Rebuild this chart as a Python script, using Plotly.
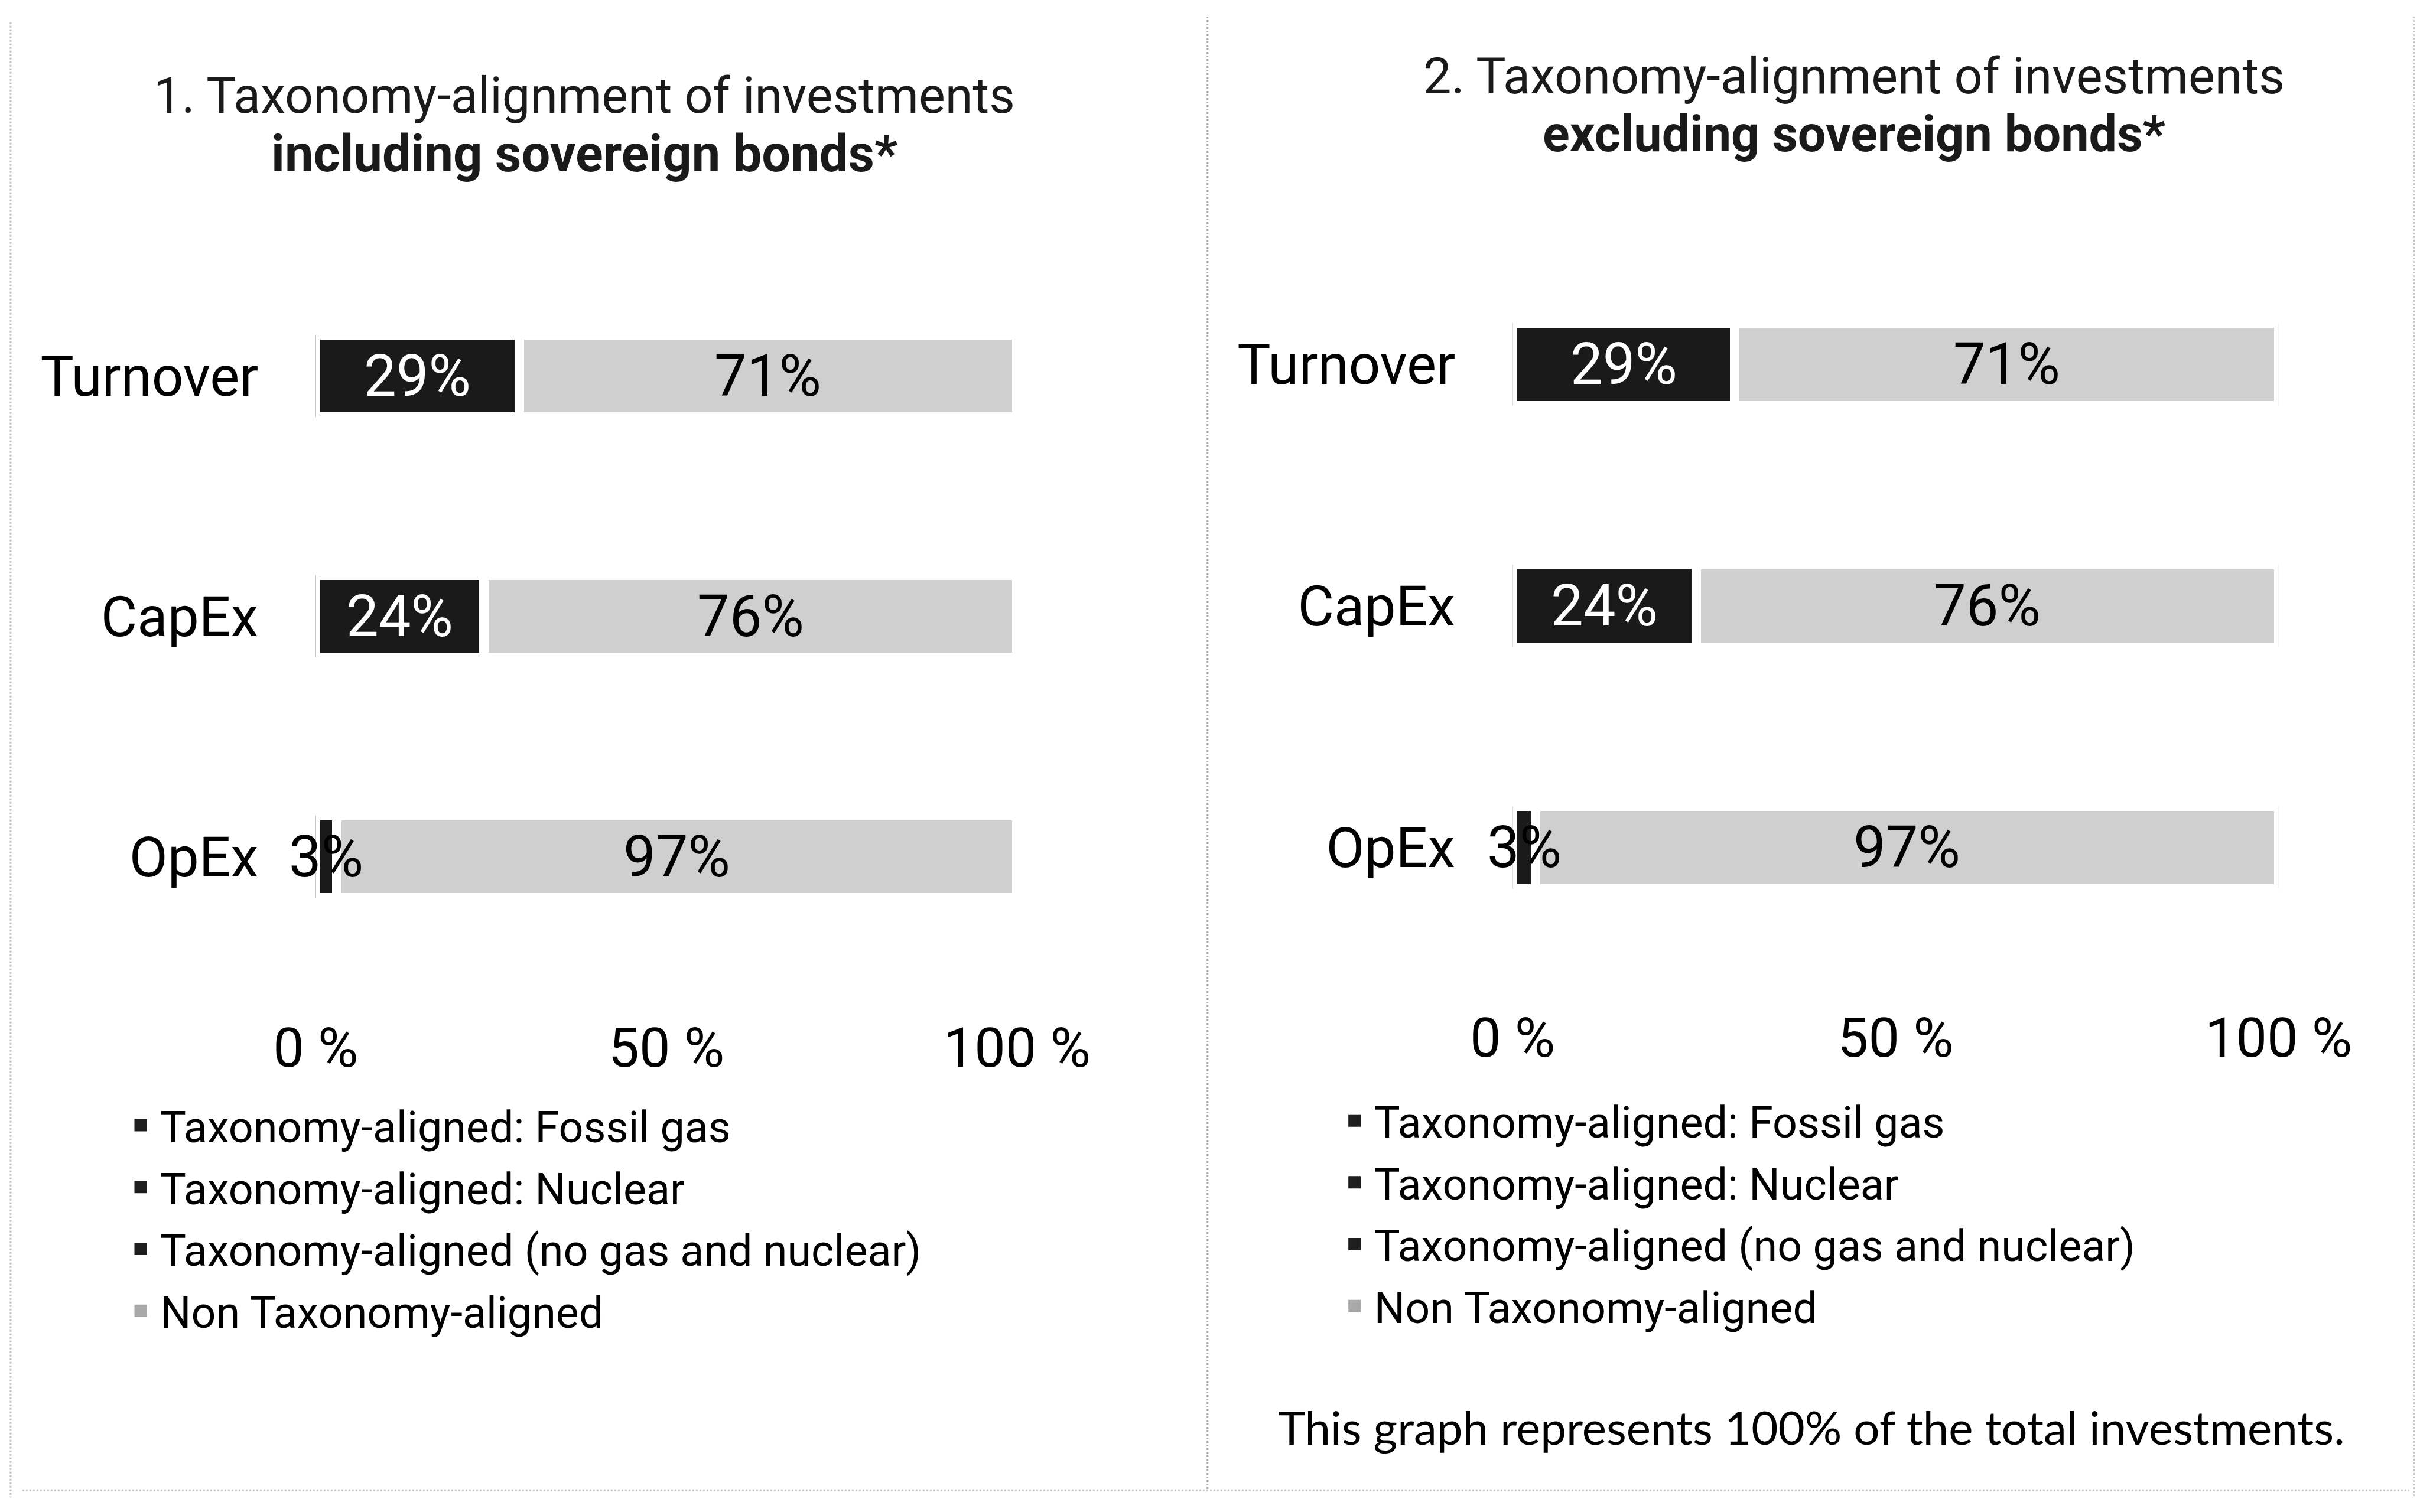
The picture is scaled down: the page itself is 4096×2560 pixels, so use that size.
import plotly.graph_objects as go

# ---------------- data ----------------
categories = ["Turnover", "CapEx", "OpEx"]
incl_fossil_gas = [0, 0, 0]
incl_nuclear = [0, 0, 0]
incl_aligned = [29, 24, 3]
incl_non_aligned = [71, 76, 97]
excl_fossil_gas = [0, 0, 0]
excl_nuclear = [0, 0, 0]
excl_aligned = [29, 24, 3]
excl_non_aligned = [71, 76, 97]
tick_vals = [0, 50, 100]
tick_text = ["0 %", "50 %", "100 %"]
legend_names = ["Taxonomy-aligned: Fossil gas", "Taxonomy-aligned: Nuclear",
                "Taxonomy-aligned (no gas and nuclear)", "Non Taxonomy-aligned"]
title1 = ["1. Taxonomy-alignment of investments", "including sovereign bonds*"]
title2 = ["2. Taxonomy-alignment of investments", "excluding sovereign bonds*"]
note = "This graph represents 100% of the total investments."

# ---------------- geometry helpers ----------------
S = 0.995
W, H = 4096, 2560
DY = -8
def fx(X):
    return X * S / W
def fy(Y):
    return 1 - (Y + DY) * S / H
def fy0(Y):
    return 1 - Y * S / H
def px(v):
    return v * S
def ipx(v):
    return int(round(v * S))

DARK = "#1a1a1a"
LIGHT = "#cfcfcf"
SEG_COLORS = [DARK, DARK, DARK, LIGHT]
LEG_COLORS = ["#1e1e1e", "#1e1e1e", "#1e1e1e", "#a9a9a9"]
FONT = "Roboto"

fig = go.Figure()

panels = [
    dict(series=[incl_fossil_gas, incl_nuclear, incl_aligned, incl_non_aligned],
         xa="x", ya="y", legend="legend"),
    dict(series=[excl_fossil_gas, excl_nuclear, excl_aligned, excl_non_aligned],
         xa="x2", ya="y2", legend="legend2"),
]

annotations = []
for p in panels:
    for name, vals, col in zip(legend_names, p["series"], SEG_COLORS):
        fig.add_trace(go.Bar(
            y=categories, x=vals, orientation="h", name=name,
            marker=dict(color=col, line=dict(color="white", width=px(16))),
            xaxis=p["xa"], yaxis=p["ya"], showlegend=False, hoverinfo="skip"))
    for i, (name, col) in enumerate(zip(legend_names, LEG_COLORS)):
        fig.add_trace(go.Scatter(
            x=[None], y=[None], mode="markers", name=name,
            marker=dict(symbol="square", size=16, color=col, line=dict(color=col, width=5)),
            xaxis=p["xa"], yaxis=p["ya"], legend=p["legend"],
            legendgroup=p["legend"] + str(i), showlegend=True))
    # value labels centred on segments (only non-zero segments)
    cum = [0.0] * len(categories)
    for k, vals in enumerate(p["series"]):
        for j, v in enumerate(vals):
            if v > 0:
                mid = cum[j] + v / 2
                annotations.append(dict(
                    x=mid, y=categories[j], xref=p["xa"], yref=p["ya"],
                    text=f"{v}%", showarrow=False,
                    font=dict(family=FONT, size=px(98),
                              color="white" if (SEG_COLORS[k] == DARK and v >= 10) else "black")))
            cum[j] += v

# titles
for (line1, line2), cx, y1, y2, b in [(title1, 986, 163, 262, 87), (title2, 3146, 130, 229, 85)]:
    annotations.append(dict(x=fx(cx), y=fy(y1), xref="paper", yref="paper", text=line1,
                            showarrow=False, xanchor="center", yanchor="middle",
                            font=dict(family=FONT, size=px(85), color="#1a1a1a")))
    annotations.append(dict(x=fx(cx), y=fy(y2), xref="paper", yref="paper", text=f"<b>{line2}</b>",
                            showarrow=False, xanchor="center", yanchor="middle",
                            font=dict(family=FONT, size=px(b), color="#1a1a1a")))

annotations.append(dict(x=fx(3073), y=fy(2428), xref="paper", yref="paper", text=note,
                        showarrow=False, xanchor="center", yanchor="middle",
                        font=dict(family="Lato", size=px(78.5), color="black")))

axis_common_x = dict(range=[0, 100], tickvals=tick_vals, ticktext=tick_text,
                     showgrid=False, zeroline=False, showline=False, ticks="",
                     tickfont=dict(family=FONT, size=px(94), color="black"),
                     automargin=False, fixedrange=True)
axis_common_y = dict(range=[2.5, -0.5], categoryorder="array", categoryarray=categories,
                     showgrid=False, zeroline=False, showline=False, ticks="",
                     tickfont=dict(family=FONT, size=px(95), color="black"),
                     ticklabelstandoff=ipx(96), automargin=False, fixedrange=True)

leg_common = dict(font=dict(family=FONT, size=px(74), color="black"),
                  bgcolor="rgba(0,0,0,0)", borderwidth=0, itemwidth=56,
                  traceorder="grouped", tracegroupgap=ipx(6),
                  xanchor="left", yanchor="top", itemclick=False, itemdoubleclick=False)

shapes = [
    dict(type="line", xref="paper", yref="paper", x0=fx(2046), x1=fx(2046), y0=fy0(20), y1=fy0(2530),
         line=dict(color="#a8a8a8", width=3, dash="dot")),
    dict(type="line", xref="paper", yref="paper", x0=fx(10), x1=fx(10), y0=fy0(30), y1=fy0(2540),
         line=dict(color="#c0c0c0", width=3, dash="dot")),
    dict(type="line", xref="paper", yref="paper", x0=fx(4098), x1=fx(4098), y0=fy0(20), y1=fy0(2540),
         line=dict(color="#c8c8c8", width=3, dash="dot")),
    dict(type="line", xref="paper", yref="paper", x0=fx(30), x1=fx(4090), y0=fy0(2528), y1=fy0(2528),
         line=dict(color="#c8c8c8", width=3, dash="dot")),
]

fig.update_layout(
    width=W, height=H,
    margin=dict(l=0, r=0, t=0, b=0, pad=0, autoexpand=False),
    paper_bgcolor="white", plot_bgcolor="white",
    barmode="stack", bargap=0.658,
    xaxis=dict(domain=[fx(529), fx(1722)], anchor="y", ticklabelstandoff=ipx(57), **axis_common_x),
    yaxis=dict(domain=[fy(1662.5), fy(435.5)], anchor="x", **axis_common_y),
    xaxis2=dict(domain=[fx(2565), fx(3868)], anchor="y2", ticklabelstandoff=ipx(55), **axis_common_x),
    yaxis2=dict(domain=[fy(1647.5), fy(414.5)], anchor="x2", **axis_common_y),
    legend=dict(x=fx(198), y=fy(1860), **leg_common),
    legend2=dict(x=fx(2263), y=fy(1852), **leg_common),
    annotations=annotations,
    shapes=shapes,
    showlegend=True,
    font=dict(family=FONT),
)

fig.write_html("out.html")
